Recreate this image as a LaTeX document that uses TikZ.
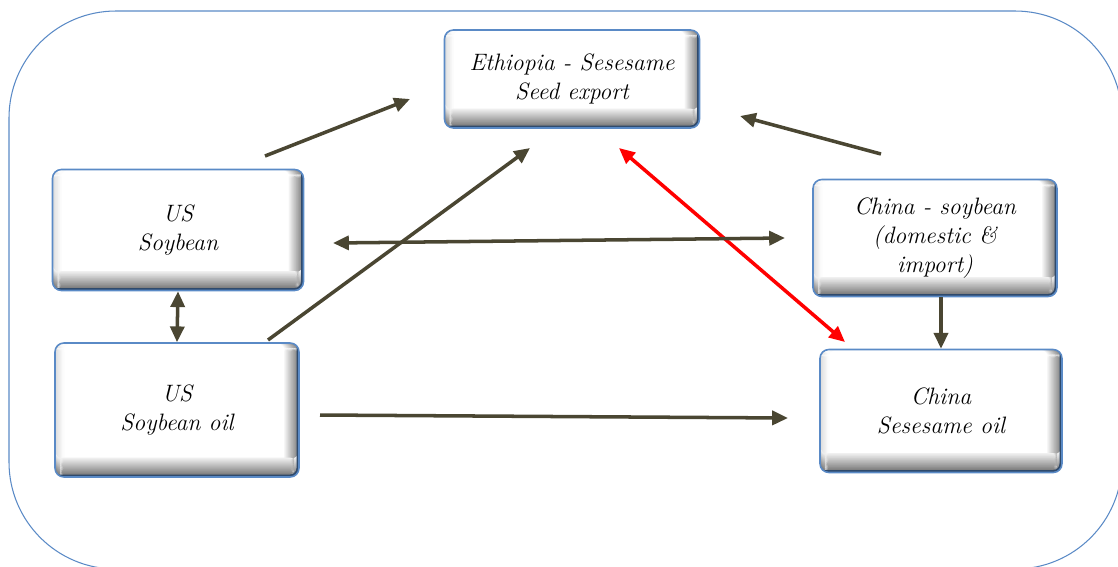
\documentclass[tikz,border=0pt]{standalone}
\usetikzlibrary{arrows.meta}
\definecolor{boxblue}{HTML}{5A8AC6}
\definecolor{boxdark}{HTML}{2F4A6C}
\definecolor{arrowcol}{HTML}{4A4632}
\begin{document}
\begin{tikzpicture}[x=0.02cm,y=-0.02cm,
  bevel/.style={draw=boxblue, line width=0.9pt, fill=white, rounded corners=5pt, inner sep=0pt, align=center,
    font=\fontsize{13.5}{16.5}\selectfont\itshape,
    path picture={
      \foreach \k [evaluate=\k as \g using int(14-1.4*\k)] in {0,...,9}
        \fill[black!\g] ([xshift=\k*0.5pt]path picture bounding box.north west) rectangle ([xshift=\k*0.5pt+0.8pt]path picture bounding box.south west);
      \foreach \k [evaluate=\k as \g using int(3*\k)] in {0,...,17}
        \fill[black!\g] ([xshift=\k*0.5pt-9pt]path picture bounding box.north east) rectangle ([xshift=\k*0.5pt-8.2pt]path picture bounding box.south east);
      \foreach \k [evaluate=\k as \g using int(6+2.4*\k)] in {0,...,21}
        \fill[black!\g] ([yshift=11pt-\k*0.5pt]path picture bounding box.south west) rectangle ([yshift=10.2pt-\k*0.5pt]path picture bounding box.south east);
      \draw[boxdark, line width=2.8pt] (path picture bounding box.south west) -- (path picture bounding box.south east) -- (path picture bounding box.north east);
    }},
  link/.style={arrowcol, line width=2pt, -{Triangle[length=9pt,width=8pt]}},
  both/.style={link, {Triangle[length=9pt,width=8pt]}-{Triangle[length=9pt,width=8pt]}}]
\useasboundingbox (0,0) rectangle (1118,566);
% outer frame
\draw[boxblue, line width=0.6pt, rounded corners=2.14cm] (9,11) rectangle (1122,569);
% boxes
\node[bevel, minimum width=5.1cm, minimum height=1.96cm] (eth) at (572,79) {Ethiopia - Sesesame\\Seed export};
\node[bevel, minimum width=5.02cm, minimum height=2.42cm] (ussoy) at (178,230) {US\\Soybean};
\node[bevel, minimum width=4.88cm, minimum height=2.68cm] (usoil) at (177,410) {US\\Soybean oil};
\node[bevel, minimum width=4.88cm, minimum height=2.34cm] (cnsoy) at (935,238) {China - soybean\\(domestic \&\\import)};
\node[bevel, minimum width=4.84cm, minimum height=2.46cm] (cnoil) at (941,411) {China\\Sesesame oil};
% arrow ends
\coordinate (ussoy-out) at (265,156);
\coordinate (eth-in1) at (410,99);
\coordinate (usoil-out) at (268,340);
\coordinate (eth-in2) at (530,148);
\coordinate (cnsoy-out) at (881,154);
\coordinate (eth-in3) at (740,116);
\coordinate (eth-red) at (619,148);
\coordinate (cnoil-red) at (845,342);
\coordinate (ussoy-r) at (333,243);
\coordinate (cnsoy-l) at (785,238);
\coordinate (usoil-r) at (320,415);
\coordinate (cnoil-l) at (788,418);
% links
\draw[link] (ussoy-out) -- (eth-in1);
\draw[link] (usoil-out) -- (eth-in2);
\draw[link] (cnsoy-out) -- (eth-in3);
\draw[both, red] (eth-red) -- (cnoil-red);
\draw[both] (ussoy-r) -- (cnsoy-l);
\draw[both] (ussoy.south) -- (usoil.north);
\draw[link] (cnsoy.south -| cnoil.north) -- (cnoil.north);
\draw[link] (usoil-r) -- (cnoil-l);
\end{tikzpicture}
\end{document}
